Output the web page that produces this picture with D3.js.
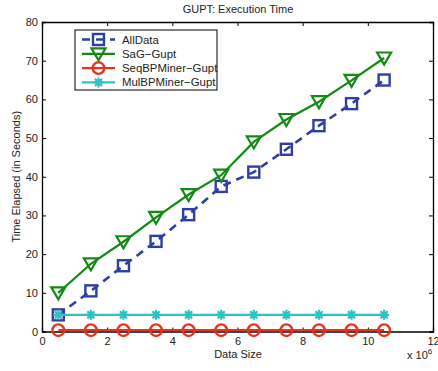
<!DOCTYPE html>
<html>
<head>
<meta charset="utf-8">
<script src="https://cdn.jsdelivr.net/npm/d3@7"></script>
<style>
  html, body { margin: 0; padding: 0; background: #fff; }
  svg { display: block; font-family: "Liberation Sans", Arial, sans-serif; }
</style>
</head>
<body>
<svg id="chart" width="438" height="371"></svg>
<script>
// Data sizes (in millions of records)
const dataSizes = [0.5, 1.5, 2.5, 3.5, 4.5, 5.5, 6.5, 7.5, 8.5, 9.5, 10.5];

// Execution time in seconds for each method
const allData      = [4.3, 10.5, 17.0, 23.3, 30.2, 37.5, 41.2, 47.1, 53.2, 58.9, 65.0];
const sagGupt      = [10.0, 17.5, 23.2, 29.5, 35.4, 40.4, 49.0, 54.8, 59.4, 64.9, 70.7];
const seqBPMiner   = [0.35, 0.35, 0.35, 0.35, 0.35, 0.35, 0.35, 0.35, 0.35, 0.35, 0.35];
const mulBPMiner   = [4.3, 4.3, 4.3, 4.3, 4.3, 4.3, 4.3, 4.3, 4.3, 4.3, 4.3];

const seriesNames  = ["AllData", "SaG\u2212Gupt", "SeqBPMiner\u2212Gupt", "MulBPMiner\u2212Gupt"];
const xTicks = [0, 2, 4, 6, 8, 10, 12];
const yTicks = [0, 10, 20, 30, 40, 50, 60, 70, 80];

const series = [
  { name: seriesNames[0], values: allData,    color: "#2e3fa3", dash: "8,6", marker: "square",   width: 2.6 },
  { name: seriesNames[1], values: sagGupt,    color: "#138a13", dash: null,  marker: "triangle", width: 2.2 },
  { name: seriesNames[2], values: seqBPMiner, color: "#e4331f", dash: null,  marker: "circle",   width: 2.2 },
  { name: seriesNames[3], values: mulBPMiner, color: "#2cc3c3", dash: null,  marker: "star",     width: 2.2 }
];

const svg = d3.select("#chart");
const x = d3.scaleLinear().domain([0, 12]).range([42, 433]);
const y = d3.scaleLinear().domain([0, 80]).range([331.5, 22]);

// Axes with inward ticks on all four sides
const tickLen = 4;
const axisFont = "11px";

const gx = svg.append("g").attr("transform", `translate(0,${y(0)})`)
  .call(d3.axisBottom(x).tickValues(xTicks).tickSize(-tickLen).tickPadding(6).tickFormat(d3.format("d")));
const gxTop = svg.append("g").attr("transform", `translate(0,${y(80)})`)
  .call(d3.axisTop(x).tickValues(xTicks).tickSize(-tickLen).tickFormat(""));
const gy = svg.append("g").attr("transform", `translate(${x(0)},0)`)
  .call(d3.axisLeft(y).tickValues(yTicks).tickSize(-tickLen).tickPadding(4).tickFormat(d3.format("d")));
const gyRight = svg.append("g").attr("transform", `translate(${x(12)},0)`)
  .call(d3.axisRight(y).tickValues(yTicks).tickSize(-tickLen).tickFormat(""));

[gx, gxTop, gy, gyRight].forEach(g => {
  g.select(".domain").attr("stroke", "#000").attr("stroke-width", 1.3);
  g.selectAll(".tick line").attr("stroke", "#000").attr("stroke-width", 1);
  g.selectAll(".tick text").attr("fill", "#222").style("font-size", axisFont)
    .style("font-family", "\"Liberation Sans\", Arial, sans-serif");
});
// Hide the end ticks that would overlap the frame
gx.selectAll(".tick").filter(d => d === 0 || d === 12).select("line").remove();
gxTop.selectAll(".tick").filter(d => d === 0 || d === 12).select("line").remove();
gy.selectAll(".tick").filter(d => d === 0 || d === 80).select("line").remove();
gyRight.selectAll(".tick").filter(d => d === 0 || d === 80).select("line").remove();

// Exponent note for x axis
const expo = svg.append("text").attr("x", 407).attr("y", 359).attr("fill", "#222")
  .style("font-size", "11px");
expo.append("tspan").text("x 10");
expo.append("tspan").attr("dy", -5).style("font-size", "8px").text("6");

// Title and axis labels
svg.append("text").attr("x", 238).attr("y", 13).attr("text-anchor", "middle")
  .attr("fill", "#222").style("font-size", "11px").text("GUPT: Execution Time");
svg.append("text").attr("x", 238).attr("y", 358).attr("text-anchor", "middle")
  .attr("fill", "#222").style("font-size", "11px").text("Data Size");
svg.append("text").attr("transform", `translate(20,${(y(0) + y(80)) / 2}) rotate(-90)`)
  .attr("text-anchor", "middle").attr("fill", "#222").style("font-size", "11px")
  .text("Time Elapsed (in Seconds)");

// Marker drawing
function drawMarker(g, type, color) {
  if (type === "square") {
    g.append("rect").attr("x", -5.5).attr("y", -5.5).attr("width", 11).attr("height", 11)
      .attr("fill", "none").attr("stroke", color).attr("stroke-width", 2.4);
  } else if (type === "triangle") {
    g.append("path").attr("d", "M-7,-5.5 L7,-5.5 L0,6.5 Z")
      .attr("fill", "none").attr("stroke", color).attr("stroke-width", 2.2).attr("stroke-linejoin", "miter");
  } else if (type === "circle") {
    g.append("circle").attr("r", 5.8)
      .attr("fill", "none").attr("stroke", color).attr("stroke-width", 2.4);
  } else if (type === "star") {
    const r = 5;
    const d = r * Math.SQRT1_2;
    g.append("path").attr("d", `M${-r},0 L${r},0 M0,${-r} L0,${r} M${-d},${-d} L${d},${d} M${-d},${d} L${d},${-d}`)
      .attr("stroke", color).attr("stroke-width", 2.2).attr("fill", "none");
  }
}

const plot = svg.append("g");
const line = d3.line().x((d, i) => x(dataSizes[i])).y(d => y(d));

// Draw series in order so later ones lie on top
series.forEach(s => {
  const g = plot.append("g");
  g.append("path").datum(s.values).attr("d", line)
    .attr("fill", "none").attr("stroke", s.color).attr("stroke-width", s.width)
    .attr("stroke-dasharray", s.dash);
  g.selectAll("g.mk").data(s.values).join("g").attr("class", "mk")
    .attr("transform", (d, i) => `translate(${x(dataSizes[i])},${y(d)})`)
    .each(function () { drawMarker(d3.select(this), s.marker, s.color); });
});

// Legend
const lg = svg.append("g").attr("transform", "translate(75,30)");
lg.append("rect").attr("x", 0).attr("y", 0).attr("width", 142).attr("height", 60)
  .attr("fill", "#fff").attr("stroke", "#000").attr("stroke-width", 1);
series.forEach((s, i) => {
  const ry = 9.5 + i * 14.3;
  const row = lg.append("g").attr("transform", `translate(0,${ry})`);
  row.append("line").attr("x1", 7).attr("x2", 40).attr("y1", 0).attr("y2", 0)
    .attr("stroke", s.color).attr("stroke-width", s.width).attr("stroke-dasharray", s.dash);
  const m = row.append("g").attr("transform", "translate(23.5,0)");
  drawMarker(m, s.marker, s.color);
  row.append("text").attr("x", 47).attr("y", 4).attr("fill", "#222")
    .style("font-size", "11.4px").text(s.name);
});
</script>
</body>
</html>
